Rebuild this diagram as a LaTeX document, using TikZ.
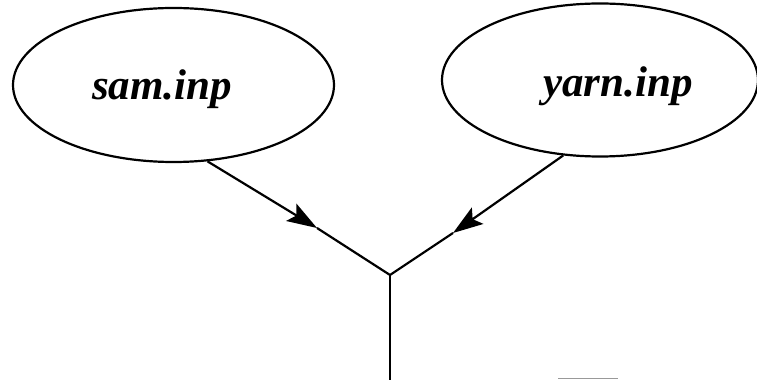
\documentclass[tikz,border=0pt]{standalone}
\usepackage{fontspec}
\setmainfont{Liberation Serif}
\usetikzlibrary{shapes.geometric,arrows.meta}
\begin{document}
\begin{tikzpicture}[x=1pt,y=1pt,
  fileoval/.style={draw,ellipse,line width=2.2pt,inner sep=0pt},
  filelabel/.style={font=\fontsize{43}{47}\selectfont\bfseries\itshape,anchor=base,inner sep=0pt},
  conn/.style={line width=2.2pt},
  arr/.style={conn,-{Stealth[length=30pt,width=20pt,inset=6pt]}}]
\useasboundingbox (0,0) rectangle (757,380);
\node[fileoval,minimum width=321pt,minimum height=154pt] (A) at (173.5,295) {};
\node[fileoval,minimum width=316pt,minimum height=153pt] (B) at (600,300) {};
\node[filelabel] (At) at (162,280) {sam.inp};
\node[filelabel] (Bt) at (618,283) {yarn.inp};
\coordinate (tL) at (317,152);
\coordinate (tR) at (453,147);
\coordinate (J) at (390,105);
\coordinate (E) at (390,0);
\draw[arr] (A.-66) -- (tL);
\draw[arr] (B.-116) -- (tR);
\draw[conn] (tL) -- (J) -- (tR);
\draw[conn] (J) -- (E);
\coordinate (g1) at (558,1.2);
\coordinate (g2) at (618,1.2);
\draw[gray!80,line width=1pt] (g1) -- (g2);
\end{tikzpicture}
\end{document}
